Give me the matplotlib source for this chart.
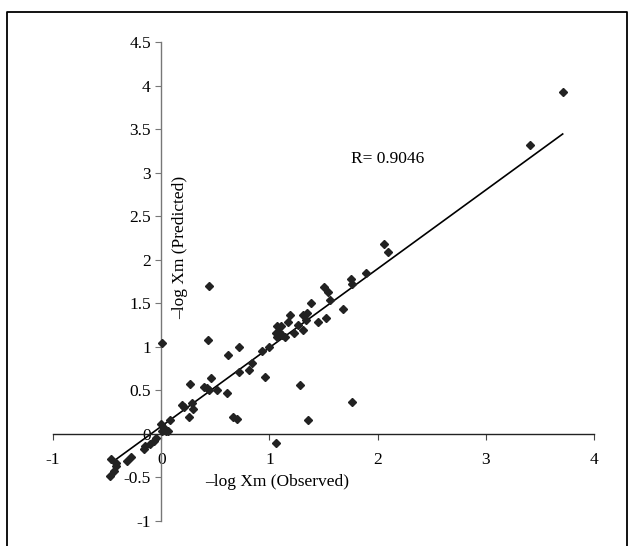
import matplotlib
matplotlib.use("Agg")
import matplotlib.pyplot as plt
from matplotlib.lines import Line2D
import numpy as np

plt.rcParams['font.family'] = ['Liberation Serif', 'DejaVu Serif']

# observed vs predicted -log Xm
observed = [3.71, 3.41, 2.06, 2.10, 1.89, 1.75, 1.76, 1.68, 1.50, 1.54,
            1.56, 1.52, 1.45, 1.38, 1.31, 1.35, 1.34, 1.31, 1.28, 1.76,
            1.36, 1.19, 1.17, 1.26, 1.07, 1.11, 1.06, 1.09, 1.12, 1.14,
            1.23, 1.07, 1.00, 0.93, 0.84, 0.72, 0.01, 0.43, 0.62, 0.44,
            0.72, 0.81, 0.96, 0.46, 0.27, 0.40, 0.42, 0.44, 0.52, 0.61,
            0.19, 0.21, 0.28, 0.29, 0.26, 0.66, 0.70, 0.00, 0.08, 0.03,
            0.04, 0.06, 0.01, -0.05, -0.07, -0.10, -0.15, -0.16, -0.28, -0.32,
            -0.46, -0.42, -0.44, -0.47, -0.42, 1.06]
predicted = [3.93, 3.32, 2.18, 2.09, 1.85, 1.78, 1.72, 1.44, 1.69, 1.63,
             1.54, 1.33, 1.29, 1.51, 1.37, 1.39, 1.31, 1.20, 0.56, 0.37,
             0.16, 1.37, 1.29, 1.25, 1.24, 1.24, 1.16, 1.17, 1.14, 1.11,
             1.16, 1.11, 1.00, 0.95, 0.82, 1.00, 1.05, 1.08, 0.91, 1.70,
             0.71, 0.74, 0.65, 0.64, 0.58, 0.54, 0.53, 0.50, 0.51, 0.47,
             0.33, 0.31, 0.36, 0.29, 0.19, 0.20, 0.17, 0.12, 0.16, 0.07,
             0.04, 0.03, 0.03, -0.05, -0.08, -0.11, -0.14, -0.17, -0.26, -0.31,
             -0.29, -0.33, -0.43, -0.48, -0.37, -0.10]

# regression line
slope = 0.906
intercept = 0.087
fit_x = np.array([-0.46, 3.71])
fit_y = slope * fit_x + intercept

xticks = [-1, 0, 1, 2, 3, 4]
yticks = [-1, -0.5, 0, 0.5, 1, 1.5, 2, 2.5, 3, 3.5, 4, 4.5]
ytick_labels = ['-1', '-0.5', '0', '0.5', '1', '1.5', '2', '2.5', '3', '3.5', '4', '4.5']

fs = 12.5

fig = plt.figure(figsize=(6.34, 5.46), dpi=100)
ax = fig.add_axes([0.0836, 0.0458, 0.8534, 0.8764])

ax.plot(fit_x, fit_y, color='black', lw=1.2, zorder=2)
ax.plot(observed, predicted, linestyle='none', marker='D', markersize=4.2,
        color='#222222', zorder=3)

ax.set_xlim(-1, 4)
ax.set_ylim(-1, 4.5)

# axes cross at the origin
ax.spines['left'].set_position(('data', 0))
ax.spines['bottom'].set_position(('data', 0))
ax.spines['right'].set_visible(False)
ax.spines['top'].set_visible(False)
ax.spines['bottom'].set_color('#222222')
ax.spines['left'].set_color('#777777')
ax.spines['bottom'].set_linewidth(1.0)
ax.spines['left'].set_linewidth(1.0)

ax.set_xticks(xticks)
ax.set_xticklabels([str(t) for t in xticks])
ax.set_yticks(yticks)
ax.set_yticklabels(ytick_labels)
ax.tick_params(axis='x', direction='out', length=4, pad=9, labelsize=fs, color='#444444')
ax.tick_params(axis='y', direction='out', length=4, pad=3.5, labelsize=fs, color='#777777')

ax.text(2.09, 3.16, 'R= 0.9046', fontsize=fs, ha='center', va='center')
ax.text(1.07, -0.55, '\u2013log Xm (Observed)', fontsize=fs, ha='center', va='center')
ax.text(0.175, 2.14, '\u2013log Xm (Predicted)', fontsize=fs, ha='center', va='center',
        rotation=90)

# outer frame (open at the bottom)
x0, x1 = 7 / 634, 627 / 634
y0, y1 = 0.0, 1 - 12 / 546
fig.add_artist(Line2D([x0, x0, x1, x1], [y0, y1, y1, y0], transform=fig.transFigure,
                      color='black', lw=1.3))

fig.savefig('out.png', dpi=100)
